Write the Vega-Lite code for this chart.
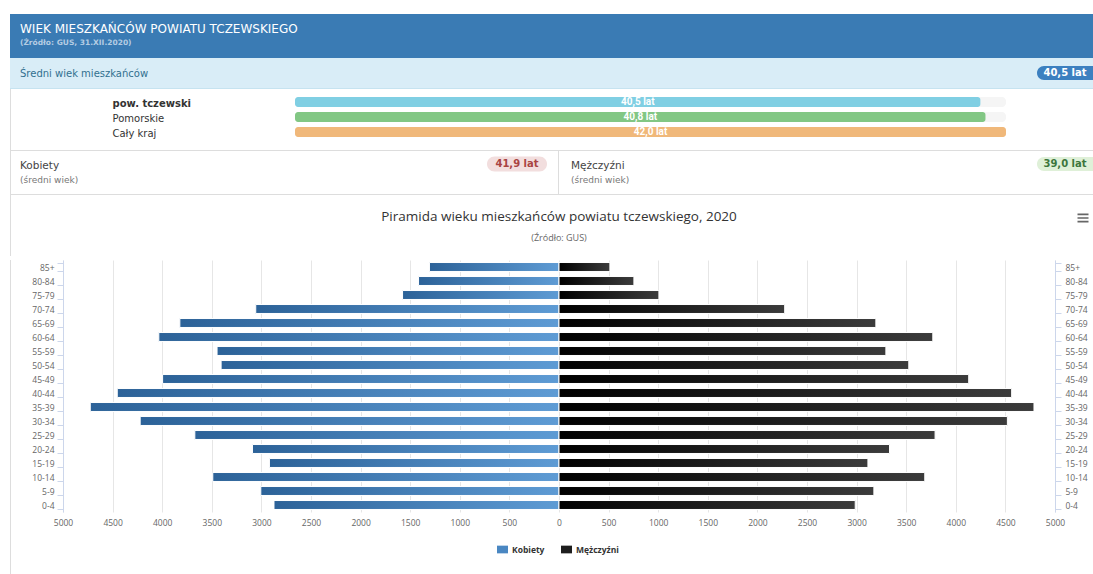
{
  "$schema": "https://vega.github.io/schema/vega-lite/v6.json",
  "background": "#ffffff",
  "padding": {"left": 10, "top": 14, "right": 0, "bottom": 0},
  "spacing": 0,
  "config": {
    "view": {"stroke": null},
    "concat": {"spacing": 0},
    "font": "DejaVu Sans"
  },
  "resolve": {"scale": {"color": "independent"}, "legend": {"color": "independent"}},
  "vconcat": [
    {
      "width": 1083, "height": 44,
      "view": {"fill": "#3a7bb4"},
      "data": {"values": []}, "mark": "text",
      "title": {"text": "WIEK MIESZKAŃCÓW POWIATU TCZEWSKIEGO", "subtitle": "(Źródło: GUS, 31.XII.2020)", "anchor": "start", "frame": "group", "dx": 10, "offset": -33.5, "font": "DejaVu Sans", "fontSize": 12, "fontWeight": "normal", "color": "#ffffff", "subtitleFont": "DejaVu Sans", "subtitleFontSize": 7.5, "subtitleFontWeight": "bold", "subtitleColor": "#b4cce3", "subtitlePadding": 3.5}
    },
    {
      "hconcat": [
        {
          "width": 1027, "height": 30,
          "view": {"fill": "#d9edf7"},
          "data": {"values": []}, "mark": "text",
          "title": {"text": "Średni wiek mieszkańców", "anchor": "start", "frame": "group", "dx": 10, "offset": -21.3, "font": "DejaVu Sans", "fontSize": 10, "fontWeight": "normal", "color": "#31708f"}
        },
        {
          "width": 56, "height": 30,
          "view": {"fill": "#d9edf7"},
          "data": {"values": [{"label": "Średni wiek mieszkańców", "value": 40.5, "badge": "40,5 lat"}]},
          "layer": [
            {"mark": {"type": "point", "shape": "M-0.75,-0.25L1,-0.25L1,0.25L-0.75,0.25C-0.888,0.25,-1,0.138,-1,0C-1,-0.138,-0.888,-0.25,-0.75,-0.25Z", "size": 3136, "filled": true, "color": "#3c80c0", "opacity": 1, "strokeWidth": 0}, "encoding": {}},
            {"mark": {"type": "text", "color": "#ffffff", "font": "DejaVu Sans", "fontSize": 10, "fontWeight": "bold", "align": "center", "baseline": "middle"}, "encoding": {"text": {"field": "badge", "type": "nominal"}}}
          ]
        }
      ],
      "spacing": 0, "bounds": "flush"
    },
    {"width": 1083, "height": 1, "view": {"fill": "#c6e3f0"}, "data": {"values": []}, "mark": "text"},
    {
      "hconcat": [
        {"width": 1, "height": 61, "view": {"fill": "#dddddd"}, "data": {"values": []}, "mark": "text"},
        {"width": 284, "height": 61, "data": {"values": []}, "mark": "text"},
        {
          "width": 711, "height": 61,
          "data": {"values": [
            {"region": "pow. tczewski", "age": 40.5, "label": "40,5 lat"},
            {"region": "Pomorskie", "age": 40.8, "label": "40,8 lat"},
            {"region": "Cały kraj", "age": 42.0, "label": "42,0 lat"}
          ]},
          "encoding": {
            "y": {"field": "region", "type": "nominal", "sort": ["pow. tczewski", "Pomorskie", "Cały kraj"],
              "scale": {"paddingInner": 0.3333, "paddingOuter": 0.7, "align": 0.381},
              "axis": {"title": null, "domain": false, "ticks": false, "grid": false, "labelAlign": "left", "labelPadding": 183, "labelOffset": 1.5, "labelFont": "DejaVu Sans", "labelFontSize": 10, "labelColor": "#333333", "labelLimit": 300,
                "labelFontWeight": {"condition": {"test": "datum.value === 'pow. tczewski'", "value": "bold"}, "value": "normal"}}}
          },
          "layer": [
            {"mark": {"type": "bar", "color": "#f5f5f5", "cornerRadius": 4}, "encoding": {"x": {"datum": 42, "type": "quantitative", "scale": {"domain": [0, 42], "nice": false, "zero": true}, "axis": null}}},
            {"mark": {"type": "bar", "cornerRadius": 3}, "encoding": {"x": {"field": "age", "type": "quantitative", "scale": {"domain": [0, 42], "nice": false, "zero": true}, "axis": null}, "color": {"field": "region", "type": "nominal", "scale": {"domain": ["pow. tczewski", "Pomorskie", "Cały kraj"], "range": ["#80cfe3", "#82c784", "#f0b87a"]}, "legend": null}}},
            {"mark": {"type": "text", "color": "#ffffff", "font": "Roboto", "fontSize": 10, "fontWeight": "bold", "align": "center", "baseline": "middle"}, "encoding": {"x": {"field": "age", "type": "quantitative", "scale": {"domain": [0, 84], "nice": false, "zero": true}, "axis": null}, "text": {"field": "label", "type": "nominal"}}}
          ],
          "resolve": {"scale": {"x": "independent"}}
        },
        {"width": 87, "height": 61, "data": {"values": []}, "mark": "text"}
      ],
      "spacing": 0, "bounds": "flush",
      "resolve": {"scale": {"color": "independent"}, "legend": {"color": "independent"}}
    },
    {"width": 1083, "height": 1, "view": {"fill": "#dddddd"}, "data": {"values": []}, "mark": "text"},
    {
      "hconcat": [
        {"width": 1, "height": 43, "view": {"fill": "#dddddd"}, "data": {"values": []}, "mark": "text"},
        {
          "width": 476, "height": 43, "data": {"values": []}, "mark": "text",
          "title": {"text": "Kobiety", "subtitle": "(średni wiek)", "anchor": "start", "frame": "group", "dx": 9, "offset": -33.5, "font": "DejaVu Sans", "fontSize": 10.5, "fontWeight": "normal", "color": "#444444", "subtitleFont": "DejaVu Sans", "subtitleFontSize": 9, "subtitleColor": "#777777", "subtitlePadding": 4}
        },
        {
          "width": 60, "height": 26,
          "data": {"values": [{"sex": "Kobiety", "value": 41.9, "badge": "41,9 lat"}]},
          "layer": [
            {"mark": {"type": "point", "shape": "M-0.75,-0.25L0.75,-0.25C0.888,-0.25,1,-0.138,1,0C1,0.138,0.888,0.25,0.75,0.25L-0.75,0.25C-0.888,0.25,-1,0.138,-1,0C-1,-0.138,-0.888,-0.25,-0.75,-0.25Z", "size": 3600, "filled": true, "color": "#f2dede", "opacity": 1, "strokeWidth": 0}, "encoding": {}},
            {"mark": {"type": "text", "color": "#a94442", "font": "DejaVu Sans", "fontSize": 10, "fontWeight": "bold", "align": "center", "baseline": "middle"}, "encoding": {"text": {"field": "badge", "type": "nominal"}}}
          ]
        },
        {"width": 11, "height": 43, "data": {"values": []}, "mark": "text"},
        {"width": 1, "height": 43, "view": {"fill": "#dddddd"}, "data": {"values": []}, "mark": "text"},
        {
          "width": 478, "height": 43, "data": {"values": []}, "mark": "text",
          "title": {"text": "Mężczyźni", "subtitle": "(średni wiek)", "anchor": "start", "frame": "group", "dx": 12, "offset": -33.5, "font": "DejaVu Sans", "fontSize": 10.5, "fontWeight": "normal", "color": "#444444", "subtitleFont": "DejaVu Sans", "subtitleFontSize": 9, "subtitleColor": "#777777", "subtitlePadding": 4}
        },
        {
          "width": 56, "height": 26,
          "data": {"values": [{"sex": "Mężczyźni", "value": 39.0, "badge": "39,0 lat"}]},
          "layer": [
            {"mark": {"type": "point", "shape": "M-0.75,-0.25L1,-0.25L1,0.25L-0.75,0.25C-0.888,0.25,-1,0.138,-1,0C-1,-0.138,-0.888,-0.25,-0.75,-0.25Z", "size": 3136, "filled": true, "color": "#dff0d8", "opacity": 1, "strokeWidth": 0}, "encoding": {}},
            {"mark": {"type": "text", "color": "#3c763d", "font": "DejaVu Sans", "fontSize": 10, "fontWeight": "bold", "align": "center", "baseline": "middle"}, "encoding": {"text": {"field": "badge", "type": "nominal"}}}
          ]
        }
      ],
      "spacing": 0, "bounds": "flush"
    },
    {"width": 1083, "height": 1, "view": {"fill": "#dddddd"}, "data": {"values": []}, "mark": "text"},
    {
      "hconcat": [
        {"width": 1, "height": 61, "view": {"fill": "#dddddd"}, "data": {"values": []}, "mark": "text"},
        {"width": 52, "height": 61, "data": {"values": []}, "mark": "text"},
        {
          "width": 992, "height": 61, "data": {"values": []}, "mark": "text",
          "title": {"text": "Piramida wieku mieszkańców powiatu tczewskiego, 2020", "subtitle": "(Źródło: GUS)", "anchor": "middle", "frame": "group", "offset": -48, "font": "Open Sans", "fontSize": 13.5, "fontWeight": "normal", "color": "#333333", "subtitleFont": "Open Sans", "subtitleFontSize": 9, "subtitleColor": "#666666", "subtitlePadding": 10.8}
        },
        {"width": 18, "height": 61, "data": {"values": []}, "mark": "text"},
        {
          "width": 20, "height": 46,
          "data": {"values": [{"icon": "menu"}]},
          "mark": {"type": "point", "shape": "M-1,-0.8L1,-0.8L1,-0.5L-1,-0.5Z M-1,-0.15L1,-0.15L1,0.15L-1,0.15Z M-1,0.5L1,0.5L1,0.8L-1,0.8Z", "size": 121, "filled": true, "color": "#666666", "opacity": 1, "strokeWidth": 0},
          "encoding": {}
        }
      ],
      "spacing": 0, "bounds": "flush"
    },
    {
      "hconcat": [
        {"width": 1, "height": 318, "view": {"fill": "#dddddd"}, "data": {"values": []}, "mark": "text"},
        {"width": 52, "height": 318, "data": {"values": []}, "mark": "text"},
        {
          "width": 992, "height": 252,
          "data": {"values": [
            {"age": "85+", "sex": "Kobiety", "value": -1306},
            {"age": "80-84", "sex": "Kobiety", "value": -1416},
            {"age": "75-79", "sex": "Kobiety", "value": -1577},
            {"age": "70-74", "sex": "Kobiety", "value": -3057},
            {"age": "65-69", "sex": "Kobiety", "value": -3822},
            {"age": "60-64", "sex": "Kobiety", "value": -4034},
            {"age": "55-59", "sex": "Kobiety", "value": -3447},
            {"age": "50-54", "sex": "Kobiety", "value": -3406},
            {"age": "45-49", "sex": "Kobiety", "value": -3996},
            {"age": "40-44", "sex": "Kobiety", "value": -4453},
            {"age": "35-39", "sex": "Kobiety", "value": -4725},
            {"age": "30-34", "sex": "Kobiety", "value": -4222},
            {"age": "25-29", "sex": "Kobiety", "value": -3671},
            {"age": "20-24", "sex": "Kobiety", "value": -3090},
            {"age": "15-19", "sex": "Kobiety", "value": -2919},
            {"age": "10-14", "sex": "Kobiety", "value": -3490},
            {"age": "5-9", "sex": "Kobiety", "value": -3006},
            {"age": "0-4", "sex": "Kobiety", "value": -2873},
            {"age": "85+", "sex": "Mężczyźni", "value": 513},
            {"age": "80-84", "sex": "Mężczyźni", "value": 755},
            {"age": "75-79", "sex": "Mężczyźni", "value": 1007},
            {"age": "70-74", "sex": "Mężczyźni", "value": 2275},
            {"age": "65-69", "sex": "Mężczyźni", "value": 3194},
            {"age": "60-64", "sex": "Mężczyźni", "value": 3768},
            {"age": "55-59", "sex": "Mężczyźni", "value": 3295},
            {"age": "50-54", "sex": "Mężczyźni", "value": 3526},
            {"age": "45-49", "sex": "Mężczyźni", "value": 4130},
            {"age": "40-44", "sex": "Mężczyźni", "value": 4563},
            {"age": "35-39", "sex": "Mężczyźni", "value": 4788},
            {"age": "30-34", "sex": "Mężczyźni", "value": 4520},
            {"age": "25-29", "sex": "Mężczyźni", "value": 3791},
            {"age": "20-24", "sex": "Mężczyźni", "value": 3332},
            {"age": "15-19", "sex": "Mężczyźni", "value": 3114},
            {"age": "10-14", "sex": "Mężczyźni", "value": 3687},
            {"age": "5-9", "sex": "Mężczyźni", "value": 3174},
            {"age": "0-4", "sex": "Mężczyźni", "value": 2986}
          ]},
          "layer": [
            {
              "mark": {"type": "bar", "stroke": "#ffffff", "strokeWidth": 1},
              "encoding": {
                "y": {"field": "age", "type": "nominal", "sort": ["85+", "80-84", "75-79", "70-74", "65-69", "60-64", "55-59", "50-54", "45-49", "40-44", "35-39", "30-34", "25-29", "20-24", "15-19", "10-14", "5-9", "0-4"],
                  "scale": {"paddingInner": 0.36, "paddingOuter": 0.18},
                  "axis": {"title": null, "orient": "left", "domain": true, "domainColor": "#ccd6eb", "ticks": true, "tickColor": "#ccd6eb", "tickSize": 6, "tickBand": "extent", "labelPadding": 3, "labelFont": "Open Sans", "labelFontSize": 8.5, "labelColor": "#666666", "grid": false}},
                "x": {"field": "value", "type": "quantitative", "scale": {"domain": [-5000, 5000], "nice": false},
                  "axis": {"title": null, "values": [-5000, -4500, -4000, -3500, -3000, -2500, -2000, -1500, -1000, -500, 0, 500, 1000, 1500, 2000, 2500, 3000, 3500, 4000, 4500, 5000], "labelExpr": "'' + abs(datum.value)", "grid": true, "gridColor": "#e6e6e6", "domain": false, "ticks": false, "labelPadding": 6, "labelFont": "Open Sans", "labelFontSize": 8.5, "labelColor": "#666666", "labelFlush": false, "labelOverlap": false}},
                "color": {"field": "sex", "type": "nominal", "scale": {"domain": ["Kobiety", "Mężczyźni"], "range": ["#4a87c2", "#1e1e1e"]},
                  "legend": {"title": null, "orient": "none", "legendX": 434, "legendY": 284, "direction": "horizontal", "symbolType": "M-1,-0.7L1,-0.7L1,0.7L-1,0.7Z", "symbolSize": 121, "symbolStrokeWidth": 0, "symbolOpacity": 1, "labelFont": "Open Sans", "labelFontSize": 8.5, "labelFontWeight": "bold", "labelColor": "#333333", "labelOffset": 4, "columnPadding": 16}}
              }
            },
            {
              "mark": {"type": "bar", "stroke": "#ffffff", "strokeWidth": 1},
              "encoding": {
                "y": {"field": "age", "type": "nominal", "sort": ["85+", "80-84", "75-79", "70-74", "65-69", "60-64", "55-59", "50-54", "45-49", "40-44", "35-39", "30-34", "25-29", "20-24", "15-19", "10-14", "5-9", "0-4"],
                  "scale": {"paddingInner": 0.36, "paddingOuter": 0.18},
                  "axis": {"title": null, "orient": "right", "domain": true, "domainColor": "#ccd6eb", "ticks": true, "tickColor": "#ccd6eb", "tickSize": 6, "tickBand": "extent", "labelPadding": 4, "labelFont": "Open Sans", "labelFontSize": 8.5, "labelColor": "#666666", "grid": false}},
                "x": {"field": "value", "type": "quantitative", "scale": {"domain": [-5000, 5000], "nice": false},
                  "axis": {"title": null, "values": [-5000, -4500, -4000, -3500, -3000, -2500, -2000, -1500, -1000, -500, 0, 500, 1000, 1500, 2000, 2500, 3000, 3500, 4000, 4500, 5000], "labelExpr": "'' + abs(datum.value)", "grid": true, "gridColor": "#e6e6e6", "domain": false, "ticks": false, "labelPadding": 6, "labelFont": "Open Sans", "labelFontSize": 8.5, "labelColor": "#666666", "labelFlush": false, "labelOverlap": false}},
                "fill": {"condition": {"test": "datum.sex === 'Kobiety'", "value": {"gradient": "linear", "x1": 0, "y1": 0, "x2": 1, "y2": 0, "stops": [{"offset": 0, "color": "#2c6298"}, {"offset": 1, "color": "#5e9bd4"}]}},
                  "value": {"gradient": "linear", "x1": 0, "y1": 0, "x2": 1, "y2": 0, "stops": [{"offset": 0, "color": "#000000"}, {"offset": 1, "color": "#3b3b3b"}]}}
              }
            }
          ],
          "resolve": {"axis": {"y": "independent"}}
        },
        {"width": 38, "height": 318, "data": {"values": []}, "mark": "text"}
      ],
      "spacing": 0, "bounds": "flush",
      "resolve": {"scale": {"color": "independent"}, "legend": {"color": "independent"}}
    }
  ]
}
